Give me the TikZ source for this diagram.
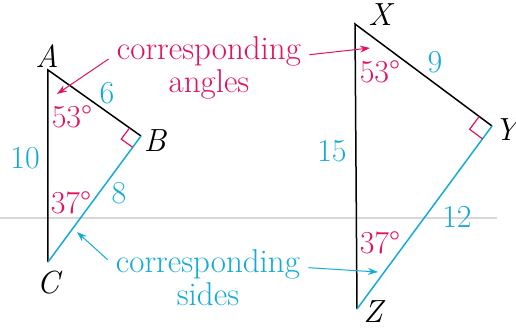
\documentclass[tikz,border=0pt]{standalone}
\usetikzlibrary{arrows.meta,calc,positioning}
\definecolor{hotpink}{rgb}{0.88,0.07,0.38}
\definecolor{skycyan}{rgb}{0.08,0.67,0.84}
\definecolor{scangray}{rgb}{0.84,0.84,0.84}
\tikzset{
  vert/.style={
    font=\fontsize{16}{19}\selectfont\itshape,
    inner sep=1pt
  },
  medida/.style={
    font=\fontsize{16}{19}\selectfont,
    text=skycyan,
    inner sep=1pt
  },
  grado/.style={
    font=\fontsize{16}{19}\selectfont,
    text=hotpink,
    inner sep=1pt
  },
  nota/.style={
    font=\fontsize{16.5}{19}\selectfont,
    inner xsep=4pt,
    inner ysep=1pt
  },
  lado/.style={
    line width=0.75pt
  },
  marca/.style={
    line width=0.6pt,
    hotpink
  },
  arrow/.style={
    -{Stealth[length=5pt,width=3.5pt]},
    line width=0.5pt
  }
}
\begin{document}
\begin{tikzpicture}[x=0.5pt,y=-0.5pt]
\useasboundingbox (0,0) rectangle (516,329);
\draw[scangray, line width=1.4pt] (0,218) -- (497,218);
% first triangle
\coordinate (A) at (48,70);
\coordinate (B) at (141,136);
\coordinate (C) at (48,262);
\draw[lado] (C) -- (A) -- (B);
\draw[lado, skycyan] (B) -- (C);
\coordinate (b1) at ($(B)!7pt!(A)$);
\coordinate (b3) at ($(B)!7pt!(C)$);
\draw[marca] (b1) -- ($(b1)+(b3)-(B)$) -- (b3);
\node[vert] (lA) at (47,56) {A};
\node[vert] (lB) at (155,141) {B};
\node[vert] (lC) at (48,283) {C};
\node[medida] (m6) at (107,93) {6};
\node[medida] (m10) at (25,158) {10};
\node[medida] (m8) at (119,193) {8};
\node[grado] (gA) at (72,117) {53°};
\node[grado] (gC) at (71,203) {37°};
% second triangle
\coordinate (X) at (355,24);
\coordinate (Y) at (492,126);
\coordinate (Z) at (357,309);
\draw[lado] (Z) -- (X) -- (Y);
\draw[lado, skycyan] (Y) -- (Z);
\coordinate (y1) at ($(Y)!8pt!(X)$);
\coordinate (y3) at ($(Y)!8pt!(Z)$);
\draw[marca] (y1) -- ($(y1)+(y3)-(Y)$) -- (y3);
\node[vert] (lX) at (380,15) {X};
\node[vert] (lY) at (506,130) {Y};
\node[vert] (lZ) at (373,312) {Z};
\node[medida] (m9) at (435,62) {9};
\node[medida] (m15) at (332,151) {15};
\node[medida] (m12) at (457,217) {12};
\node[grado] (gX) at (380,72) {53°};
\node[grado] (gZ) at (380,243) {37°};
% notes
\node[nota, text=hotpink, anchor=base] (angtop) at (209,59) {corresponding};
\node[nota, text=hotpink, anchor=base] (angbot) at (209,92) {angles};
\node[nota, text=skycyan, anchor=base] (sidtop) at (208,272) {corresponding};
\node[nota, text=skycyan, anchor=base] (sidbot) at (208,305) {sides};
\coordinate (hA) at (57,94);
\coordinate (hX) at (370,48);
\coordinate (hC) at (77,232);
\coordinate (hZ) at (378,272);
\draw[arrow, hotpink] (angtop.base west) -- (hA);
\draw[arrow, hotpink] (angtop.mid east) -- (hX);
\draw[arrow, skycyan] ([yshift=4pt]sidtop.mid west) -- (hC);
\draw[arrow, skycyan] (sidtop.mid east) -- (hZ);
\end{tikzpicture}
\end{document}
